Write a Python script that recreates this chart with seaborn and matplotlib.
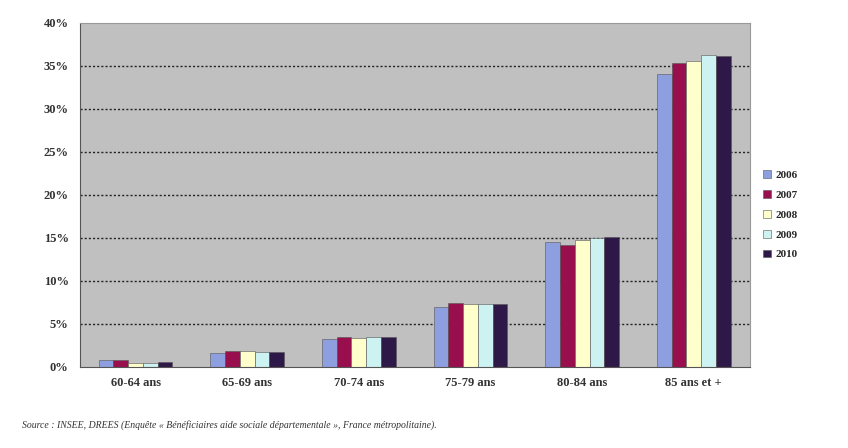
import numpy as np
import pandas as pd
import matplotlib
matplotlib.use("Agg")
import matplotlib.pyplot as plt
import seaborn as sns
from matplotlib.ticker import FuncFormatter

categories = ["60-64 ans", "65-69 ans", "70-74 ans", "75-79 ans", "80-84 ans", "85 ans et +"]
years = ["2006", "2007", "2008", "2009", "2010"]
v2006 = [0.8, 1.6, 3.2, 7.0, 14.5, 34.0]
v2007 = [0.8, 1.9, 3.5, 7.4, 14.2, 35.3]
v2008 = [0.5, 1.9, 3.4, 7.3, 14.8, 35.6]
v2009 = [0.5, 1.7, 3.5, 7.3, 15.0, 36.3]
v2010 = [0.6, 1.7, 3.5, 7.3, 15.1, 36.1]
colors = ["#8E9FE0", "#990F4D", "#FFFFCC", "#CCF2F2", "#2E1848"]
source = "Source : INSEE, DREES (Enquête « Bénéficiaires aide sociale départementale », France métropolitaine)."

rows = []
for y, vals in zip(years, [v2006, v2007, v2008, v2009, v2010]):
    for c, v in zip(categories, vals):
        rows.append({"Âge": c, "Année": y, "val": v})
df = pd.DataFrame(rows)

sns.set_style("white")
plt.rcParams["font.family"] = ["Liberation Serif", "DejaVu Serif"]

fig = plt.figure(figsize=(8.48, 4.48), dpi=100)
ax = fig.add_axes([0.094, 0.181, 0.79, 0.768])
ax.set_facecolor("#C0C0C0")

sns.barplot(data=df, x="Âge", y="val", hue="Année", palette=colors, saturation=1,
            width=0.66, gap=0, edgecolor="#555555", linewidth=0.4,
            ax=ax, legend=True, errorbar=None)

ax.set_ylim(0, 40)
ax.set_yticks(np.arange(0, 41, 5))
ax.yaxis.set_major_formatter(FuncFormatter(lambda v, p: f"{int(v)}%"))
for yv in range(5, 40, 5):
    ax.axhline(yv, color="#222222", linestyle=(0, (1.5, 1.5)), linewidth=1.0, zorder=0.5)
ax.set_axisbelow(True)
ax.set_xlabel("")
ax.set_ylabel("")
for s in ["left", "bottom"]:
    ax.spines[s].set_color("#555555")
for s in ["top", "right"]:
    ax.spines[s].set_color("#999999")
ax.tick_params(axis="both", length=4, color="#555555", labelsize=9)
ax.tick_params(axis="y", direction="out", pad=4)
for lbl in ax.get_xticklabels() + ax.get_yticklabels():
    lbl.set_fontweight("bold")
    lbl.set_color("#333333")

leg = ax.legend(loc="upper left", bbox_to_anchor=(1.005, 0.60), frameon=False,
                handlelength=0.7, handleheight=0.7, labelspacing=0.9,
                handletextpad=0.4, prop={"weight": "bold", "size": 8})

t = fig.text(0.026, 0.045, source, fontsize=7, style="italic", color="#333333")

fig.savefig("out.png", dpi=100)
